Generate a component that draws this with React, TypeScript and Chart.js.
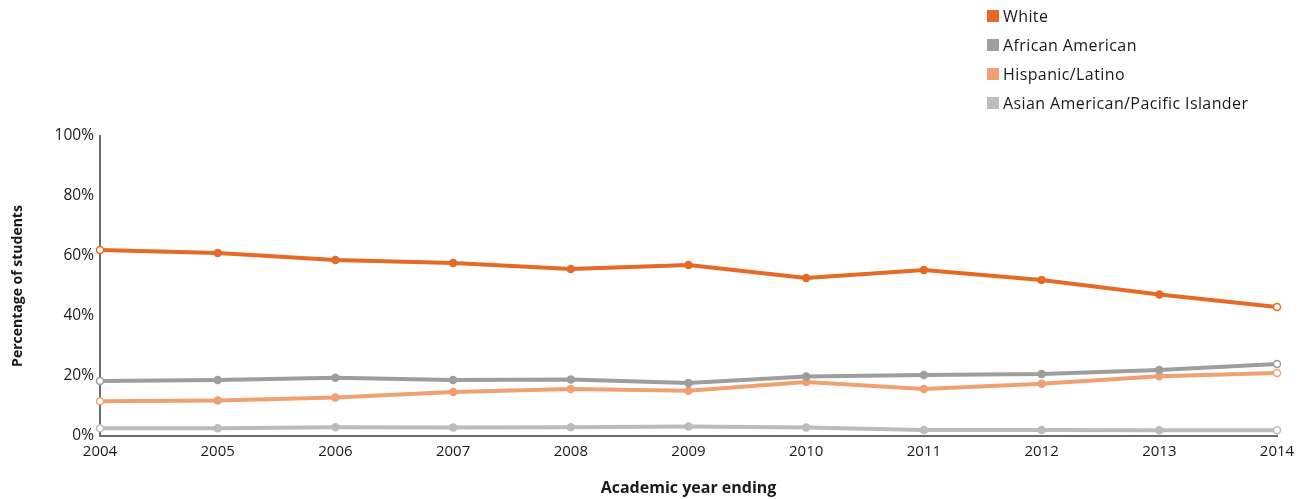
import React, { useEffect, useRef } from "react";
import { Chart, registerables } from "chart.js";

Chart.register(...registerables);

const years = ["2004", "2005", "2006", "2007", "2008", "2009", "2010", "2011", "2012", "2013", "2014"];
const white = [62.0, 61.0, 58.7, 57.7, 55.7, 57.0, 52.7, 55.3, 52.0, 47.2, 43.0];
const africanAmerican = [18.3, 18.7, 19.4, 18.7, 18.8, 17.7, 19.8, 20.3, 20.7, 22.0, 24.0];
const hispanicLatino = [11.6, 11.8, 12.8, 14.7, 15.7, 15.1, 18.0, 15.7, 17.4, 19.9, 21.0];
const asianPacific = [2.6, 2.6, 2.9, 2.8, 2.9, 3.2, 2.8, 2.0, 2.0, 1.9, 1.9];
const seriesLabels = ["White", "African American", "Hispanic/Latino", "Asian American/Pacific Islander"];
const seriesColors = ["#E46A25", "#9E9E9E", "#F0A071", "#BCBCBC"];
const yTicks = [0, 20, 40, 60, 80, 100];

const FONT = "'Open Sans', 'Noto Sans', sans-serif";

export default function App() {
  const ref = useRef<HTMLCanvasElement>(null);
  useEffect(() => {
    if (!ref.current) return;
    const data = [white, africanAmerican, hispanicLatino, asianPacific];
    const chart = new Chart(ref.current, {
      type: "line",
      data: {
        labels: years,
        datasets: data.map((d, i) => ({
          label: seriesLabels[i],
          data: d,
          borderColor: seriesColors[i],
          borderWidth: 4,
          pointRadius: 3.5,
          pointBorderWidth: 1.5,
          pointBorderColor: seriesColors[i],
          pointBackgroundColor: d.map((_, j) => (j === 0 || j === d.length - 1 ? "#ffffff" : seriesColors[i])),
          tension: 0,
          clip: false as any,
        })),
      },
      options: {
        animation: false,
        responsive: false,
        maintainAspectRatio: false,
        layout: { padding: { top: 136, right: 31, left: 0, bottom: 0 } },
        plugins: { legend: { display: false }, tooltip: { enabled: false } },
        scales: {
          x: {
            type: "category",
            offset: false,
            grid: { display: false, drawTicks: false },
            border: { display: true, color: "#6b6b6b", width: 2 },
            ticks: { color: "#1a1a1a", font: { family: FONT, size: 15 }, padding: 7, maxRotation: 0, autoSkip: false },
            title: {
              display: true,
              text: "Academic year ending",
              color: "#1a1a1a",
              font: { family: FONT, size: 16, weight: "bold" },
              padding: { top: 0, bottom: 1 },
            },
            afterFit: (s: any) => { s.height = 63; },
          },
          y: {
            min: 0,
            max: 100,
            afterBuildTicks: (s: any) => { s.ticks = yTicks.map((v) => ({ value: v })); },
            grid: { display: false, drawTicks: false },
            border: { display: true, color: "#6b6b6b", width: 2 },
            ticks: {
              color: "#1a1a1a",
              font: { family: FONT, size: 15.5 },
              padding: 6,
              callback: (v: any) => v + "%",
            },
            title: {
              display: true,
              text: "Percentage of students",
              color: "#1a1a1a",
              font: { family: FONT, size: 14, weight: "bold" },
              padding: { top: 10, bottom: 0 },
            },
            afterFit: (s: any) => { s.width = 100; },
          },
        },
      },
    });
    return () => chart.destroy();
  }, []);

  return (
    <div style={{ position: "fixed", left: 0, top: 0, width: 1308, height: 499, background: "#fff" }}>
      <canvas ref={ref} width={1308} height={499} style={{ position: "absolute", left: 0, top: 0 }} />
      <div style={{ position: "absolute", left: 987, top: 1, fontFamily: FONT, fontSize: 16, color: "#1a1a1a", letterSpacing: 0.4 }}>
        {seriesLabels.map((l, i) => (
          <div key={l} style={{ display: "flex", alignItems: "center", height: 29 }}>
            <span style={{ display: "inline-block", width: 12, height: 12, background: seriesColors[i], marginRight: 4 }} />
            <span>{l}</span>
          </div>
        ))}
      </div>
    </div>
  );
}
